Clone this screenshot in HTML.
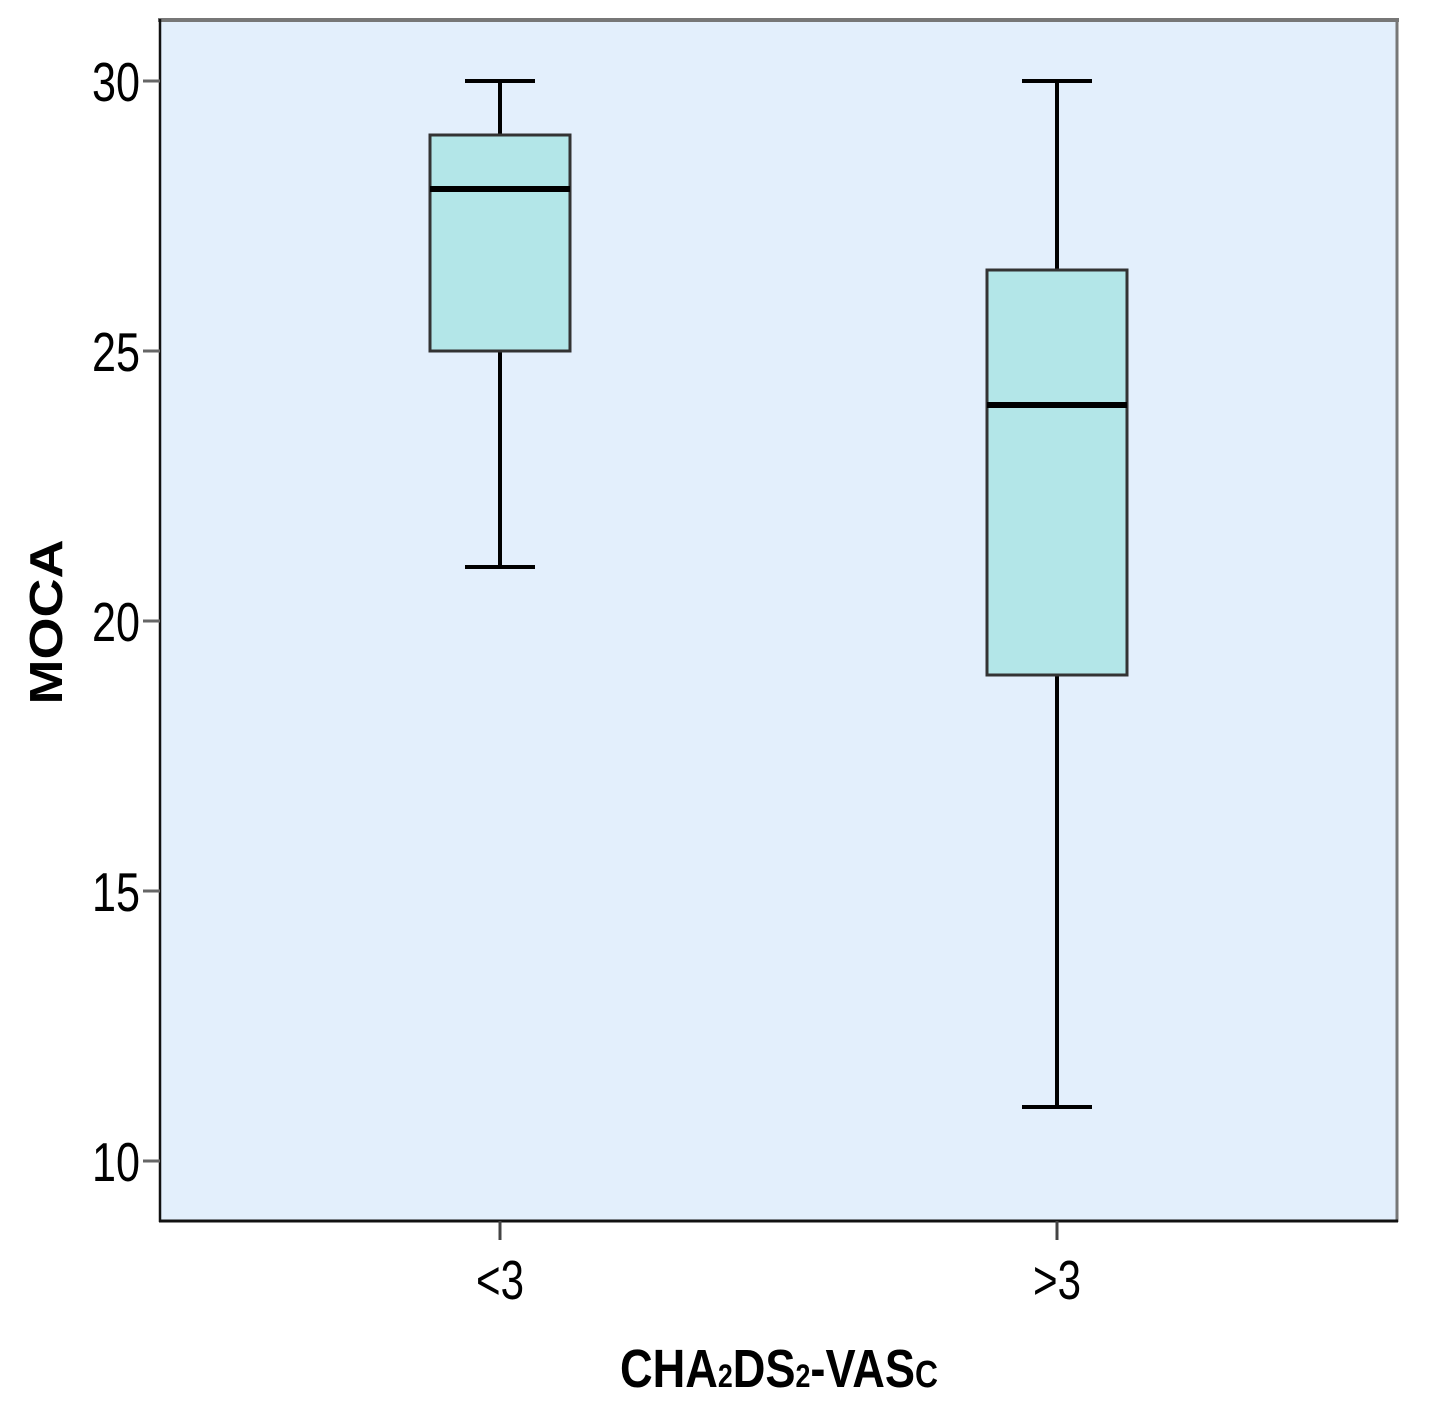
<!DOCTYPE html>
<html><head><meta charset="utf-8"><style>html,body{margin:0;padding:0;background:#fff}svg{display:block}</style></head>
<body>
<svg id="chart" width="1432" height="1416" viewBox="0 0 1432 1416" xmlns="http://www.w3.org/2000/svg" font-family="'Liberation Sans', Arial, sans-serif">
<rect x="160" y="19" width="1237" height="1202" fill="#e3effc"/>
<g id="boxes"></g>
<line x1="158" y1="20" x2="1399" y2="20" stroke="#777" stroke-width="4"/>
<line x1="1397" y1="19" x2="1397" y2="1222" stroke="#777" stroke-width="3"/>
<line x1="160" y1="19" x2="160" y2="1222" stroke="#111" stroke-width="2.5"/>
<line x1="159" y1="1221" x2="1398" y2="1221" stroke="#111" stroke-width="3"/>
<g id="yticks"></g>
<g id="xticks"></g>
<text transform="translate(62,622) rotate(-90)" text-anchor="middle" font-weight="bold" font-size="46" textLength="165" lengthAdjust="spacingAndGlyphs">MOCA</text>
<text x="620" y="1387" font-weight="bold" font-size="54" textLength="318" lengthAdjust="spacingAndGlyphs">CHA<tspan font-size="32">2</tspan>DS<tspan font-size="32">2</tspan>-VAS<tspan font-size="38">C</tspan></text>
</svg>
<script>
const categories = ["<3", ">3"];
const whiskerLow = [21, 11];
const q1 = [25, 19];
const median = [28, 24];
const q3 = [29, 26.5];
const whiskerHigh = [30, 30];
const yTicks = [10, 15, 20, 25, 30];

const NS = "http://www.w3.org/2000/svg";
const y = v => 1161 - (v - 10) * 54;
const x = i => 500 + i * 557;
function mk(tag, attrs, parent) {
  const e = document.createElementNS(NS, tag);
  for (const k in attrs) e.setAttribute(k, attrs[k]);
  parent.appendChild(e);
  return e;
}
const yg = document.getElementById('yticks');
yTicks.forEach(t => {
  const l = mk('line', {x1: 143, x2: 160, y1: y(t), y2: y(t), stroke: '#666', 'stroke-width': 3}, yg);
  
  
  const tx = mk('text', {x: 140, y: y(t) + 20, 'text-anchor': 'end', 'font-size': 55, textLength: 48, lengthAdjust: 'spacingAndGlyphs'}, yg);
  tx.textContent = t;
  
  
});
const xg = document.getElementById('xticks');
const bg = document.getElementById('boxes');
categories.forEach((c, i) => {
  const cx = x(i);
  const l = mk('line', {x1: cx, x2: cx, y1: 1221, y2: 1240, stroke: '#444', 'stroke-width': 3}, xg);
  
  
  const tx = mk('text', {x: cx, y: 1299, 'text-anchor': 'middle', 'font-size': 55, textLength: 48, lengthAdjust: 'spacingAndGlyphs'}, xg);
  tx.textContent = c;
  
  

  const g = mk('g', {}, bg);
  
  
  const w = mk('line', {x1: cx, x2: cx, y1: y(whiskerHigh[i]), y2: y(whiskerLow[i]), stroke: '#000', 'stroke-width': 4}, g);
  
  
  const ct = mk('line', {x1: cx - 35, x2: cx + 35, y1: y(whiskerHigh[i]), y2: y(whiskerHigh[i]), stroke: '#000', 'stroke-width': 4}, g);
  
  
  const cb = mk('line', {x1: cx - 35, x2: cx + 35, y1: y(whiskerLow[i]), y2: y(whiskerLow[i]), stroke: '#000', 'stroke-width': 4}, g);
  
  
  const b = mk('rect', {x: cx - 70, y: y(q3[i]), width: 140, height: y(q1[i]) - y(q3[i]), fill: '#b3e6e8', stroke: '#333', 'stroke-width': 3}, g);
  
  
  const m = mk('line', {x1: cx - 70, x2: cx + 70, y1: y(median[i]), y2: y(median[i]), stroke: '#000', 'stroke-width': 6}, g);
  
  
});
</script>
</body></html>
